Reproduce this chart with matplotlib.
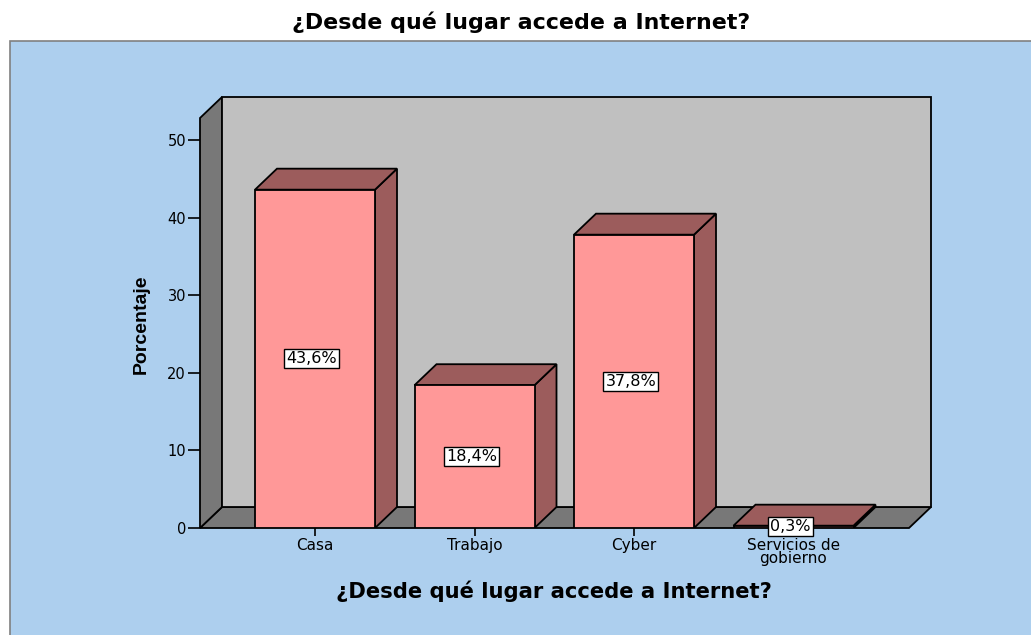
import matplotlib
matplotlib.use("Agg")
import matplotlib.pyplot as plt
from matplotlib.patches import Polygon, Rectangle

categories = ["Casa", "Trabajo", "Cyber", "Servicios de\ngobierno"]
values = [43.6, 18.4, 37.8, 0.3]
value_labels = ["43,6%", "18,4%", "37,8%", "0,3%"]
yticks = [0, 10, 20, 30, 40, 50]
title = "¿Desde qué lugar accede a Internet?"
xlabel = "¿Desde qué lugar accede a Internet?"
ylabel = "Porcentaje"

W, H = 1031, 635
fig = plt.figure(figsize=(W / 100, H / 100), dpi=100)
fig.patch.set_facecolor("white")

# blue panel
fig.patches.append(Rectangle((10 / W, -0.05), 1.05, (H - 41) / H + 0.05, transform=fig.transFigure,
                             facecolor="#ADCFEE", edgecolor="#808080", linewidth=1.2, zorder=-5))

left_px, right_px, bot_px, top_px = 200, 931, 528, 97
ax = fig.add_axes([left_px / W, (H - bot_px) / H, (right_px - left_px) / W, (bot_px - top_px) / H])
ax.set_facecolor("none")
ax.set_zorder(1)

px_per_cat = 159.5
px_per_unit = 7.76
first_center = 315
x0 = (left_px - first_center) / px_per_cat
x1 = (right_px - first_center) / px_per_cat
ytop = (bot_px - top_px) / px_per_unit
ax.set_xlim(x0, x1)
ax.set_ylim(0, ytop)

dx = 22 / px_per_cat
dy = 21 / px_per_unit
bw = 120 / px_per_cat

wall_dark = "#787878"
wall_back = "#C0C0C0"
front_col = "#FF9898"
side_col = "#9C5C5C"
lw = 1.3

# floor
ax.add_patch(Polygon([(x0, 0), (x1 - dx, 0), (x1, dy), (x0 + dx, dy)], closed=True,
                     facecolor=wall_dark, edgecolor="black", linewidth=lw, zorder=1, clip_on=False))
# left wall
ax.add_patch(Polygon([(x0, 0), (x0, ytop - dy), (x0 + dx, ytop), (x0 + dx, dy)], closed=True,
                     facecolor=wall_dark, edgecolor="black", linewidth=lw, zorder=1, clip_on=False))
# back wall
ax.add_patch(Polygon([(x0 + dx, dy), (x0 + dx, ytop), (x1, ytop), (x1, dy)], closed=True,
                     facecolor=wall_back, edgecolor="black", linewidth=lw, zorder=1, clip_on=False))

for i, v in enumerate(values):
    l = i - bw / 2
    r = i + bw / 2
    z = 2 + i
    ax.add_patch(Polygon([(r, 0), (r + dx, dy), (r + dx, v + dy), (r, v)], closed=True,
                         facecolor=side_col, edgecolor="black", linewidth=lw, zorder=z))
    ax.add_patch(Polygon([(l, v), (r, v), (r + dx, v + dy), (l + dx, v + dy)], closed=True,
                         facecolor=side_col, edgecolor="black", linewidth=lw, zorder=z))
    ax.add_patch(Rectangle((l, 0), bw, v, facecolor=front_col, edgecolor="black",
                           linewidth=lw, zorder=z))
    ax.text(i - 0.02, v / 2, value_labels[i], ha="center", va="center", fontsize=11.5,
            family="DejaVu Sans", zorder=20, clip_on=False,
            bbox=dict(boxstyle="square,pad=0.13", facecolor="white", edgecolor="black", linewidth=1))

for s in ax.spines.values():
    s.set_visible(False)
ax.set_yticks(yticks)
ax.set_yticklabels([str(t) for t in yticks], family="DejaVu Sans", fontsize=10.5)
ax.set_xticks(range(len(categories)))
ax.set_xticklabels(categories, family="DejaVu Sans", fontsize=11, linespacing=0.85)
ax.tick_params(axis="y", length=9, width=1.2, pad=1, colors="black")
ax.tick_params(axis="x", length=5.5, width=1.2, pad=1.5, colors="black")

fig.text(521 / W, 1 - 22 / H, title, ha="center", va="center", fontsize=15.9,
         family="DejaVu Sans", weight="bold")
fig.text(554 / W, 1 - 591 / H, xlabel, ha="center", va="center", fontsize=15.2,
         family="DejaVu Sans", weight="bold")
fig.text(141 / W, 1 - 324 / H, ylabel, ha="center", va="center", fontsize=14, rotation=90,
         family="Liberation Sans", weight="bold")

fig.savefig("out.png", dpi=100)
